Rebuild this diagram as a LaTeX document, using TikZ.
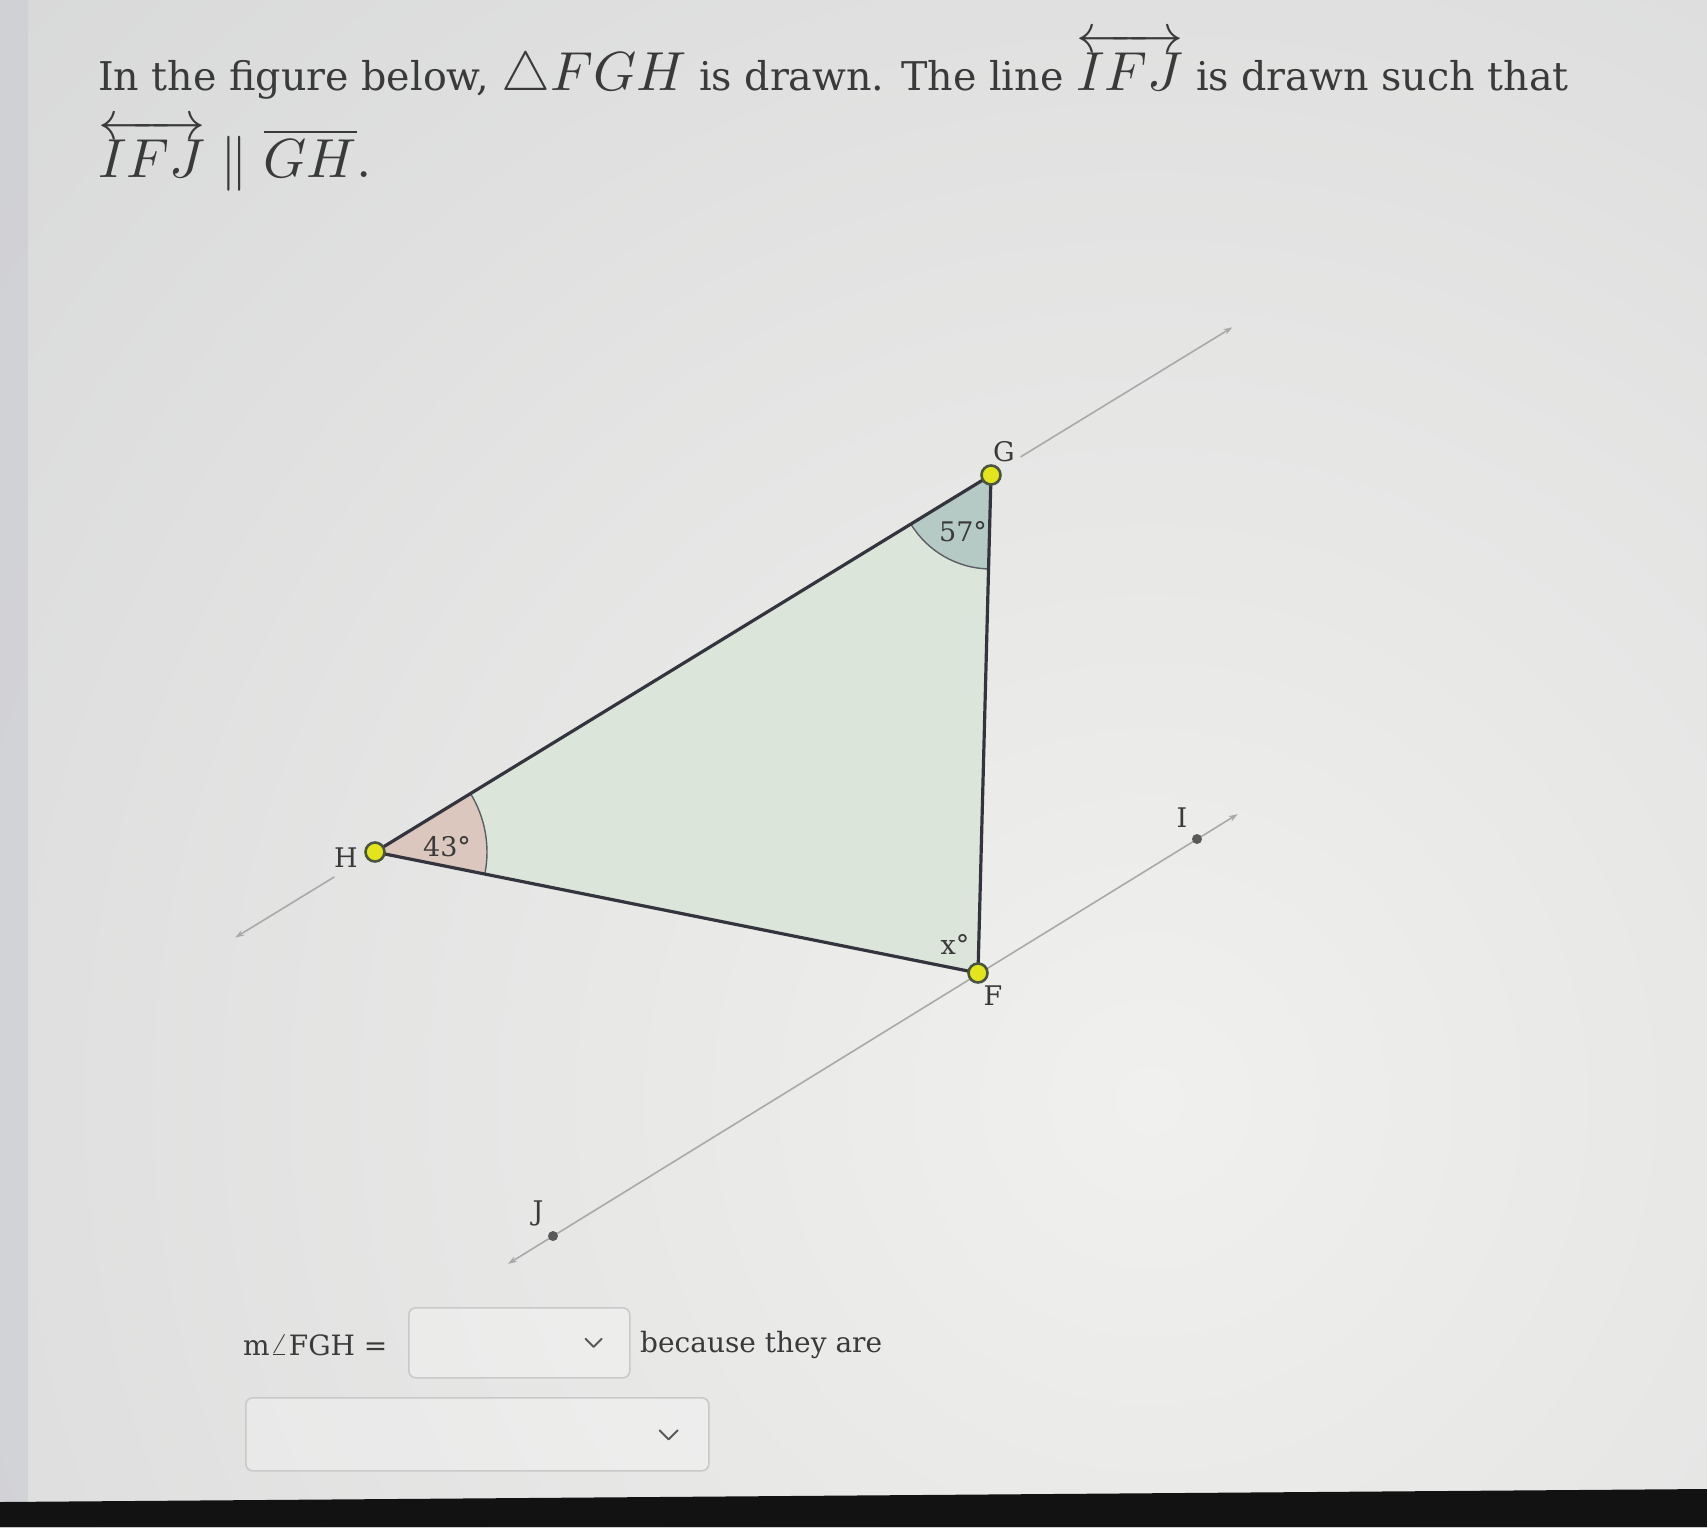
\documentclass[tikz,border=0pt]{standalone}
\usepackage{amsmath}
\usepackage{graphicx}
\usepackage[no-math]{fontspec}
\setmainfont{DejaVu Serif}
\usetikzlibrary{arrows.meta,calc}
\definecolor{bgdark}{HTML}{BFC0C3}
\definecolor{bglight}{HTML}{F0F0EE}
\definecolor{bgedge}{HTML}{CDCED3}
\definecolor{inkc}{HTML}{3A3A3A}
\definecolor{edgec}{HTML}{34343F}
\definecolor{trifill}{HTML}{DCE5DA}
\definecolor{gsect}{HTML}{B5C9C5}
\definecolor{hsect}{HTML}{DCC7BF}
\definecolor{ptfill}{HTML}{E4E41C}
\definecolor{ptdraw}{HTML}{4A5540}
\definecolor{linec}{HTML}{A9A9A9}
\definecolor{boxc}{HTML}{C9C9C9}
\newcommand\bigmath[1]{{\fontsize{10}{12}\selectfont\scalebox{5.5}{$#1$}}}
\newcommand\midmath[1]{{\fontsize{10}{12}\selectfont\scalebox{3.0}{$#1$}}}
\tikzset{
  thinline/.style={draw=linec, line width=1.6pt},
  tipend/.style={-{Stealth[length=9pt,width=6pt]}},
  edge/.style={draw=edgec, line width=3.2pt, line join=round},
  vertexpt/.style={circle, fill=ptfill, draw=ptdraw, line width=2.6pt, minimum size=19pt, inner sep=0pt},
  smallpt/.style={circle, fill=black!65, minimum size=10pt, inner sep=0pt},
  lbl/.style={text=inkc, font=\fontsize{27}{32}\selectfont, inner sep=0pt},
  uitext/.style={text=inkc, font=\fontsize{28}{32}\selectfont, inner sep=0pt, anchor=base west},
  titletext/.style={text=inkc, font=\fontsize{39.6}{46}\selectfont, inner sep=0pt, anchor=base west},
  dropbox/.style={draw=boxc, line width=1.6pt, rounded corners=7pt, fill=white, fill opacity=0.25, inner sep=0pt, anchor=north west},
  chev/.style={draw=black!65, line width=2pt, line cap=round, line join=round}
}
\begin{document}
\begin{tikzpicture}[x=1pt,y=1pt]
\useasboundingbox (0,0) rectangle (1707,-1527);
\begin{scope}
  \clip (0,0) rectangle (1707,-1527);
  \fill[bgdark] (0,0) rectangle (1707,-1527);
  \shade[inner color=bglight, outer color=bgdark] (1150-3300,-1100+3300) rectangle (1150+3300,-1100-3300);
  \fill[bgedge, opacity=0.7] (0,0) rectangle (28,-1527);
  \fill[black!93] (0,-1502) -- (1707,-1489) -- (1707,-1527) -- (0,-1527) -- cycle;
\end{scope}

% title
\node[titletext] (title1) at (98,-90)
  {In the figure below, \bigmath{\triangle FGH} is drawn. The line \bigmath{\overleftrightarrow{IFJ}} is drawn such that};
\node[titletext] (title2) at (98,-177)
  {\bigmath{\overleftrightarrow{IFJ}\parallel\overline{GH}.}};

% points
\coordinate (G) at (991,-475);
\coordinate (H) at (375,-852);
\coordinate (F) at (978,-973);
\coordinate (I) at (1197,-839);
\coordinate (J) at (553,-1236);
\coordinate (GHa) at ($(H)!-0.227!(G)$);
\coordinate (Hgap) at ($(H)!-0.066!(G)$);
\coordinate (GHb) at ($(G)!-0.392!(H)$);
\coordinate (Ggap) at ($(G)!-0.048!(H)$);
\coordinate (IFJa) at ($(F)!1.106!(J)$);
\coordinate (IFJb) at ($(F)!1.186!(I)$);

% lines
\draw[thinline, tipend] (Hgap) -- (GHa);
\draw[thinline, tipend] (Ggap) -- (GHb);
\draw[thinline, {Stealth[length=9pt,width=6pt]}-{Stealth[length=9pt,width=6pt]}] (IFJa) -- (IFJb);

% triangle
\fill[trifill] (F) -- (G) -- (H) -- cycle;
\fill[gsect] (G) -- ++(211.46:94) arc[start angle=211.46, end angle=268.5, radius=94] -- cycle;
\draw[draw=edgec!80, line width=1.4pt] (G) ++(211.46:94) arc[start angle=211.46, end angle=268.5, radius=94];
\fill[hsect] (H) -- ++(-11.35:112) arc[start angle=-11.35, end angle=31.46, radius=112] -- cycle;
\draw[draw=edgec!80, line width=1.4pt] (H) ++(-11.35:112) arc[start angle=-11.35, end angle=31.46, radius=112];
\draw[edge] (F) -- (G) -- (H) -- cycle;

% vertices
\node[vertexpt] (Gp) at (G) {};
\node[vertexpt] (Hp) at (H) {};
\node[vertexpt] (Fp) at (F) {};
\node[smallpt] (Ip) at (I) {};
\node[smallpt] (Jp) at (J) {};

% labels
\node[lbl] (Gl) at (1004,-452) {G};
\node[lbl] (Hl) at (346,-858) {H};
\node[lbl] (Fl) at (993,-996) {F};
\node[lbl] (Il) at (1182,-818) {I};
\node[lbl] (Jl) at (538,-1213) {J};
\node[lbl] (a57) at (963,-532) {57°};
\node[lbl] (a43) at (447,-847) {43°};
\node[lbl] (ax) at (955,-944) {x°};

% answer area
\node[uitext] (mfgh) at (243,-1355) {m\midmath{\angle}FGH =};
\node[dropbox, minimum width=221pt, minimum height=70pt] (box1) at (408,-1307) {};
\draw[chev] ($(box1.east)+(-45,4)$) -- ++(8,-8) -- ++(8,8);
\node[uitext] (because) at (640,-1352) {because they are};
\node[dropbox, minimum width=463pt, minimum height=73pt] (box2) at (245,-1397) {};
\draw[chev] ($(box2.east)+(-50,4)$) -- ++(9,-9) -- ++(9,9);
\end{tikzpicture}
\end{document}
